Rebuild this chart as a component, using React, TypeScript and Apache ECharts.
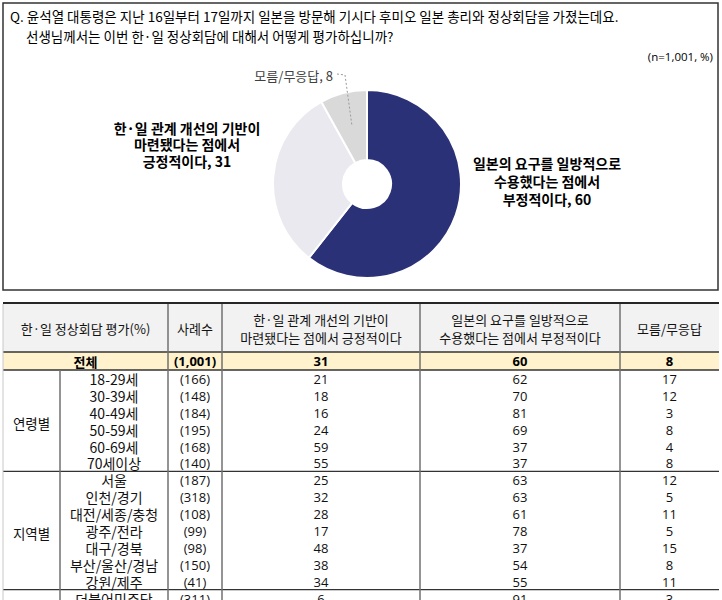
import React, { useEffect, useRef } from 'react';
import * as echarts from 'echarts';

// ---------- data ----------
const questionLines = [
  'Q. 윤석열 대통령은 지난 16일부터 17일까지 일본을 방문해 기시다 후미오 일본 총리와 정상회담을 가졌는데요.',
  '선생님께서는 이번 한·일 정상회담에 대해서 어떻게 평가하십니까?',
];
const sampleNote = '(n=1,001, %)';

const pieNames = [
  '일본의 요구를 일방적으로\n수용했다는 점에서\n부정적이다',
  '한·일 관계 개선의 기반이\n마련됐다는 점에서\n긍정적이다',
  '모름/무응답',
];
const pieValues = [60, 31, 8];
const pieColors = ['#2B3176', '#E9E9EF', '#D9D9D9'];

const tableHeaders = [
  '한·일 정상회담 평가(%)',
  '사례수',
  '한·일 관계 개선의 기반이\n마련됐다는 점에서 긍정적이다',
  '일본의 요구를 일방적으로\n수용했다는 점에서 부정적이다',
  '모름/무응답',
];
const totalLabel = '전체';
const totalN = '(1,001)';
const totalValues = [31, 60, 8];

const ageGroup = '연령별';
const ageLabels = ['18-29세', '30-39세', '40-49세', '50-59세', '60-69세', '70세이상'];
const ageN = ['(166)', '(148)', '(184)', '(195)', '(168)', '(140)'];
const agePositive = [21, 18, 16, 24, 59, 55];
const ageNegative = [62, 70, 81, 69, 37, 37];
const ageUnknown = [17, 12, 3, 8, 4, 8];

const regionGroup = '지역별';
const regionLabels = ['서울', '인천/경기', '대전/세종/충청', '광주/전라', '대구/경북', '부산/울산/경남', '강원/제주'];
const regionN = ['(187)', '(318)', '(108)', '(99)', '(98)', '(150)', '(41)'];
const regionPositive = [25, 32, 28, 17, 48, 38, 34];
const regionNegative = [63, 63, 61, 78, 37, 54, 55];
const regionUnknown = [12, 5, 11, 5, 15, 8, 11];

const partyLabels = ['더불어민주당'];
const partyN = ['(311)'];
const partyPositive = [6];
const partyNegative = [91];
const partyUnknown = [3];

// ---------- layout ----------
const KR = '"Noto Sans CJK KR", "Malgun Gothic", sans-serif';
const NUM = '"Open Sans", "Noto Sans CJK KR", sans-serif';

export default function App() {
  const ref = useRef<HTMLDivElement>(null);

  useEffect(() => {
    document.body.style.margin = '0';
    const chart = echarts.init(ref.current!, null, { renderer: 'svg' });
    const g: any[] = [];

    const text = (x: number, y: number, t: string, o: any = {}) =>
      g.push({
        type: 'text',
        x,
        y,
        z: 10,
        style: {
          text: t,
          fill: o.fill || '#000',
          fontSize: o.fontSize || 13,
          fontFamily: o.fontFamily || KR,
          fontWeight: o.fontWeight || 'normal',
          align: o.align || 'center',
          verticalAlign: 'middle',
          lineHeight: o.lineHeight || 17,
        },
      });
    const line = (x1: number, y1: number, x2: number, y2: number, stroke: string, w: number) =>
      g.push({
        type: 'line',
        z: 5,
        shape: { x1, y1, x2, y2 },
        style: { stroke, lineWidth: w },
      });
    const rect = (x: number, y: number, w: number, h: number, fill: string) =>
      g.push({ type: 'rect', z: 1, shape: { x, y, width: w, height: h }, style: { fill } });

    // question box
    g.push({
      type: 'rect',
      z: 2,
      shape: { x: 3, y: 3, width: 715, height: 287 },
      style: { fill: 'none', stroke: '#333', lineWidth: 1.5 },
    });
    text(10, 16, questionLines[0], { align: 'left', fontSize: 13.5 });
    text(26, 36, questionLines[1], { align: 'left', fontSize: 13.5 });
    text(713, 56, sampleNote, { align: 'right', fontSize: 11.5, fontFamily: NUM });

    // pie labels
    text(547, 181, `${pieNames[0]}, ${pieValues[0]}`, { fontSize: 14, fontWeight: 'bold', lineHeight: 18 });
    text(187, 144, `${pieNames[1]}, ${pieValues[1]}`, { fontSize: 14, fontWeight: 'bold', lineHeight: 16.5 });
    text(333, 75, `${pieNames[2]}, ${pieValues[2]}`, { align: 'right', fontSize: 13, fill: '#404040' });
    g.push({
      type: 'polyline',
      z: 12,
      shape: { points: [[337, 74], [345, 75], [352, 126]] },
      style: { stroke: '#9a9a9a', lineWidth: 1, lineDash: [2, 2], fill: 'none' },
    });

    // table
    const colX = [3, 168, 222, 420, 620, 719];
    const subX = 60;
    const top = 304;
    const headBottom = 352;
    const totalBottom = 370;
    const rowH = 16.9;
    const centers = colX.slice(0, -1).map((x, i) => (x + colX[i + 1]) / 2);

    rect(3, top, 716, headBottom - top, '#F2F2F2');
    rect(3, headBottom, 716, totalBottom - headBottom, '#FFF2CC');

    tableHeaders.forEach((h, i) => text(centers[i], 328, h, { fontSize: 13, lineHeight: 18, fill: '#111' }));

    const yTot = (headBottom + totalBottom) / 2;
    text(centers[0], yTot, totalLabel, { fontWeight: 'bold', fontSize: 13, lineHeight: 16 });
    text(centers[1], yTot, totalN, { fontWeight: 'bold', fontSize: 13, fontFamily: NUM, lineHeight: 16 });
    totalValues.forEach((v, i) =>
      text(centers[i + 2], yTot, String(v), { fontWeight: 'bold', fontSize: 13, fontFamily: NUM, lineHeight: 16 })
    );

    const subCenter = (subX + colX[1]) / 2;
    let y0 = totalBottom;
    const groupBounds: number[] = [];
    const rowStyle = { fontSize: 13, fontFamily: NUM, fill: '#111', lineHeight: 15 };
    const addGroup = (group: string, labels: string[], ns: string[], p: number[], n: number[], u: number[]) => {
      labels.forEach((lab, i) => {
        const cy = y0 + rowH * i + rowH / 2 + 0.5;
        text(subCenter, cy, lab, { fontSize: 14, fill: '#111', lineHeight: 15 });
        text(centers[1], cy, ns[i], rowStyle);
        text(centers[2], cy, String(p[i]), rowStyle);
        text(centers[3], cy, String(n[i]), rowStyle);
        text(centers[4], cy, String(u[i]), rowStyle);
      });
      const y1 = y0 + rowH * labels.length;
      if (group) text((colX[0] + subX) / 2, (y0 + y1) / 2 + 2, group, { fontSize: 13.5, fill: '#111' });
      y0 = y1;
      groupBounds.push(y1);
    };
    addGroup(ageGroup, ageLabels, ageN, agePositive, ageNegative, ageUnknown);
    addGroup(regionGroup, regionLabels, regionN, regionPositive, regionNegative, regionUnknown);
    addGroup('', partyLabels, partyN, partyPositive, partyNegative, partyUnknown);

    // lines
    line(3, top - 1, 719, top - 1, '#262626', 2);
    line(3, headBottom, 719, headBottom, '#333', 1.3);
    line(3, totalBottom, 719, totalBottom, '#333', 1.3);
    line(3, groupBounds[0], 719, groupBounds[0], '#333', 1.3);
    line(3, groupBounds[1], 719, groupBounds[1], '#333', 1.3);
    [1, 2, 3, 4].forEach((i) => line(colX[i], top, colX[i], 600, '#707070', 1.5));
    line(subX, totalBottom, subX, 600, '#707070', 1.5);
    line(3, top, 3, 600, '#c8c8c8', 1);

    chart.setOption({
      animation: false,
      backgroundColor: '#fff',
      series: [
        {
          type: 'pie',
          center: [367, 184],
          radius: [24, 94],
          startAngle: 90,
          clockwise: true,
          label: { show: false },
          labelLine: { show: false },
          emphasis: { disabled: true },
          itemStyle: { borderColor: '#fff', borderWidth: 2 },
          data: pieValues.map((v, i) => ({
            name: pieNames[i],
            value: v,
            itemStyle: { color: pieColors[i] },
          })),
        },
      ],
      graphic: g,
    });

    return () => chart.dispose();
  }, []);

  return <div ref={ref} style={{ position: 'absolute', left: 0, top: 0, width: 722, height: 600 }} />;
}
